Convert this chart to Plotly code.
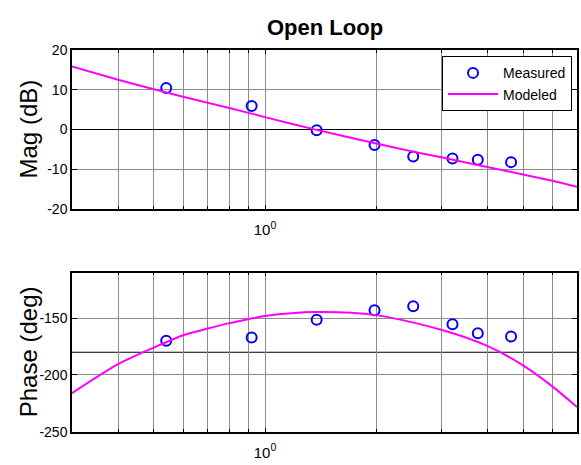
import math
import plotly.graph_objects as go

# Measured data
meas_freq = [0.54, 0.92, 1.38, 1.98, 2.52, 3.22, 3.77, 4.64]
meas_mag = [10.4, 5.9, -0.2, -3.9, -6.8, -7.3, -7.6, -8.2]
meas_phase = [-169.9, -167.0, -151.5, -143.2, -139.6, -155.5, -163.4, -166.2]

# Modeled curve
mod_mag_freq = [0.3, 0.4, 0.5, 0.6, 0.8, 1.0, 1.38, 2.0, 2.5, 3.0, 4.0, 5.0, 6.0, 7.0]
mod_mag = [15.8, 12.5, 10.1, 8.2, 5.4, 3.1, -0.1, -3.5, -5.5, -7.0, -9.4, -11.3, -12.9, -14.4]

mod_ph_freq = [0.3, 0.4, 0.5, 0.6, 0.7, 0.8, 0.9, 1.0, 1.38, 2.0, 3.0, 4.0, 5.0, 6.0, 7.0]
mod_phase = [-216.0, -190.5, -175.9, -165.1, -159.2, -154.4, -151.0, -148.1, -144.6,
             -147.4, -160.2, -174.4, -191.5, -210.0, -228.1]

freq_range = [0.3, 7.0]
x_minor = [0.4, 0.5, 0.6, 0.7, 0.8, 0.9, 2, 3, 4, 5, 6]
x_major = [1]
x_major_text = ["10<sup>0</sup>"]
mag_ticks = [-20, -10, 0, 10, 20]
phase_ticks = [-250, -200, -150]

W, H = 581, 465
FONT = "Arial, Liberation Sans, sans-serif"
BLUE = "#0000FF"
MAG = "#FF00FF"
GRID = "#8c8c8c"

fig = go.Figure()
fig.add_trace(go.Scatter(x=meas_freq, y=meas_mag, mode="markers", name="Measured",
                         marker=dict(symbol="circle-open", size=10, color=BLUE,
                                     line=dict(width=2, color=BLUE)),
                         xaxis="x", yaxis="y"))
fig.add_trace(go.Scatter(x=mod_mag_freq, y=mod_mag, mode="lines", name="Modeled",
                         line=dict(color=MAG, width=2, shape="spline", smoothing=0.8),
                         xaxis="x", yaxis="y"))
fig.add_trace(go.Scatter(x=meas_freq, y=meas_phase, mode="markers", showlegend=False,
                         marker=dict(symbol="circle-open", size=10, color=BLUE,
                                     line=dict(width=2, color=BLUE)),
                         xaxis="x2", yaxis="y2"))
fig.add_trace(go.Scatter(x=mod_ph_freq, y=mod_phase, mode="lines", showlegend=False,
                         line=dict(color=MAG, width=2, shape="spline", smoothing=0.8),
                         xaxis="x2", yaxis="y2"))

xdom = [72 / W, 577 / W]
ydom1 = [1 - 208.3 / H, 1 - 43.3 / H]
ydom2 = [1 - 439 / H, 1 - 274 / H]

xcommon = dict(type="log", range=[math.log10(freq_range[0]), math.log10(freq_range[1])],
               tickmode="array", tickvals=x_major, ticktext=x_major_text,
               showgrid=True, gridcolor=GRID, gridwidth=1,
               ticks="inside", ticklen=4, tickcolor="black",
               minor=dict(tickmode="array", tickvals=x_minor, showgrid=True,
                          gridcolor=GRID, gridwidth=1, ticks="inside", ticklen=3,
                          tickcolor="black"),
               showline=True, linecolor="black", linewidth=1.5, mirror="ticks",
               zeroline=False, domain=xdom, ticklabelstandoff=6,
               tickfont=dict(size=15, color="black", family=FONT))
ycommon = dict(showgrid=True, gridcolor=GRID, gridwidth=1, ticks="inside", ticklen=5,
               tickcolor="black", showline=True, linecolor="black", linewidth=1.5,
               mirror="ticks", tickmode="array",
               tickfont=dict(size=14, color="black", family=FONT))

fig.update_layout(
    width=W, height=H, margin=dict(l=0, r=0, t=0, b=0),
    paper_bgcolor="white", plot_bgcolor="white",
    font=dict(family=FONT, color="black"),
    xaxis=dict(**xcommon, anchor="y"),
    xaxis2=dict(**xcommon, anchor="y2"),
    yaxis=dict(**ycommon, range=[-20, 20], tickvals=mag_ticks,
               ticktext=[str(v) for v in mag_ticks], domain=ydom1,
               anchor="x", zeroline=True, zerolinecolor="black", zerolinewidth=1.2),
    yaxis2=dict(**ycommon, range=[-250, -110], tickvals=phase_ticks,
                ticktext=[str(v) for v in phase_ticks], domain=ydom2,
                anchor="x2", zeroline=False),
    showlegend=True,
    legend=dict(x=572 / W, y=1 - 50 / H, xanchor="right", yanchor="top",
                bgcolor="white", bordercolor="black", borderwidth=1,
                font=dict(size=14, color="black", family=FONT),
                itemwidth=50, tracegroupgap=0),
    shapes=[dict(type="line", xref="x2 domain", yref="y2", x0=0, x1=1, y0=-180, y1=-180,
                 line=dict(color="black", width=1.2), layer="below")],
    annotations=[
        dict(text="<b>Open Loop</b>", x=324.5 / W, y=1 - 20 / H, xref="paper", yref="paper",
             showarrow=False, xanchor="center", yanchor="middle",
             font=dict(size=22, color="black", family=FONT)),
        dict(text="Mag (dB)", x=28 / W, y=1 - 125.8 / H, xref="paper", yref="paper",
             showarrow=False, textangle=-90, xanchor="center", yanchor="middle",
             font=dict(size=24, color="black", family=FONT)),
        dict(text="Phase (deg)", x=28 / W, y=1 - 356.5 / H, xref="paper", yref="paper",
             showarrow=False, textangle=-90, xanchor="center", yanchor="middle",
             font=dict(size=24, color="black", family=FONT)),
    ],
)

fig.write_html("out.html")
